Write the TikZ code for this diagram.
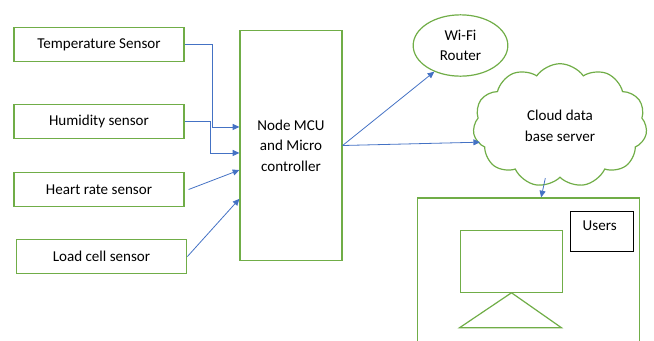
\documentclass[tikz,border=0pt]{standalone}
\usepackage{fontspec}
\setmainfont{Carlito}
\usepackage{tikz}
\usetikzlibrary{arrows.meta, positioning, shapes.geometric, shapes.symbols}
\definecolor{boxgreen}{HTML}{70AD47}
\definecolor{arrblue}{HTML}{4472C4}

\begin{document}
\begin{tikzpicture}[
    x=0.75pt, y=-0.75pt,
    every node/.style={font=\fontsize{11.3}{15.5}\selectfont},
    % Sensor boxes
    sensorbox/.style={
      rectangle, draw=boxgreen, line width=0.9pt,
      minimum width=127.5pt, minimum height=26pt
    },
    % Controller box
    mcubox/.style={
      rectangle, draw=boxgreen, line width=0.9pt, align=center,
      minimum width=76.5pt, minimum height=172pt
    },
    % Router and cloud
    routerell/.style={
      ellipse, draw=boxgreen, line width=0.9pt, align=center,
      minimum width=71pt, minimum height=46pt
    },
    cloudshape/.style={
      cloud, cloud puffs=11, cloud puff arc=110, draw=boxgreen,
      line width=0.9pt, align=center,
      minimum width=130.5pt, minimum height=67pt
    },
    % User side
    greenline/.style={draw=boxgreen, line width=0.9pt},
    % Message arrow
    msgarr/.style={-{Triangle[length=5pt, width=4.5pt]}, arrblue, line width=0.6pt}
  ]
  \clip (0,0) rectangle (654,340);

  % ============ Sensors ============
  \node[sensorbox] (temp) at (99,44.5) {Temperature Sensor};
  \node[sensorbox] (humid) at (99,121.5) {Humidity sensor};
  \node[sensorbox] (heart) at (99,189.5) {Heart rate sensor};
  \node[sensorbox, minimum width=128pt] (load) at (101.5,256.5) {Load cell sensor};

  % ============ Controller ============
  \node[mcubox] (mcu) at (291,145.5) {Node MCU\\and Micro\\controller};

  % ============ Network ============
  \node[routerell] (wifi) at (460.5,45.5) {Wi-Fi\\Router};
  \node[cloudshape] (cloud) at (560,125.5) {Cloud data\\base server};

  % ============ Users ============
  \node[rectangle, greenline, minimum width=166pt, minimum height=121.5pt] (frame) at (528.5,279) {};
  \node[rectangle, draw, line width=0.6pt, minimum width=47pt, minimum height=30pt, anchor=north west,
    label={[anchor=north west, xshift=6pt, yshift=-4pt]north west:Users}] (usrbox) at (570,211) {};
  \node[rectangle, greenline, minimum width=76pt, minimum height=46pt] (monitor) at (511.5,261.5) {};
  \draw[greenline] (monitor.south) -- ++(-52,35) -- ++(102,0) -- cycle;

  % ============ Sensor links ============
  \draw[msgarr] (temp.east) -- ++(28,0) |- ([yshift=13.9pt]mcu.west);
  \draw[msgarr] (humid.east) -- ++(26,0) |- ([yshift=-5.6pt]mcu.west);
  \draw[msgarr] ([xshift=3pt]heart.east) -- ([yshift=-18.4pt]mcu.west);
  \draw[msgarr] (load.east) -- ([yshift=-40pt]mcu.west);

  % ============ Uplinks ============
  \draw[msgarr] (mcu.east) -- (wifi.-135);
  \draw[msgarr] (mcu.east) -- ([xshift=5pt, yshift=-12.5pt]cloud.west);
  \draw[msgarr] ([xshift=-11pt]cloud.south) -- ([xshift=9.5pt]frame.north);

\end{tikzpicture}
\end{document}
